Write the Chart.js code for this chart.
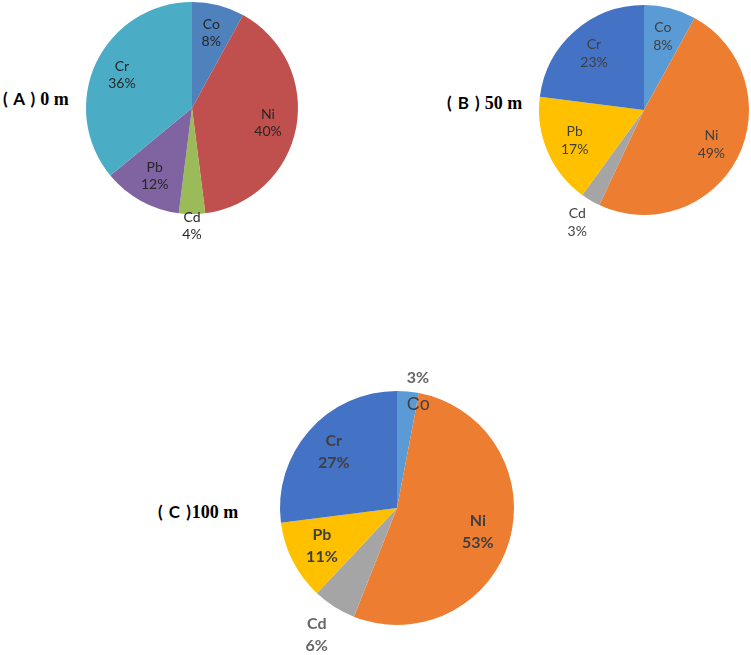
<!DOCTYPE html>
<html>
<head>
<meta charset="utf-8">
<script src="https://cdn.jsdelivr.net/npm/chart.js@4"></script>
<style>
  html, body { margin: 0; padding: 0; background: #fff; overflow: hidden; }
  body { width: 751px; height: 655px; position: relative; }
  canvas { position: absolute; }
  .ttl { position: absolute; white-space: nowrap; color: #000; font-weight: bold; line-height: 1; }
  .ttl .s { font-family: "Lato", "Liberation Sans", sans-serif; font-size: 17px; letter-spacing: 1px; }
  .ttl .m { font-family: "Liberation Serif", serif; font-size: 18px; }
</style>
</head>
<body>
<div class="ttl" style="left:3px;top:90px"><span class="s">( A )</span> <span class="m">0 m</span></div>
<div class="ttl" style="left:447px;top:94px"><span class="s">( B )</span>&nbsp;<span class="m">50 m</span></div>
<div class="ttl" style="left:158px;top:503px"><span class="s">( C )</span><span class="m">100 m</span></div>

<canvas id="chartA"></canvas>
<canvas id="chartB"></canvas>
<canvas id="chartC"></canvas>

<script>
// metals, clockwise from 12 o'clock
const metals = ["Co", "Ni", "Cd", "Pb", "Cr"];

// share of each metal (%)
const valuesA = [8, 40, 4, 12, 36];   // 0 m
const valuesB = [8, 49, 3, 17, 23];   // 50 m
const valuesC = [3, 53, 6, 11, 27];   // 100 m

const colorsA = ["#4F81BD", "#C0504D", "#9BBB59", "#8064A2", "#4BACC6"];
const colorsB = ["#5B9BD5", "#ED7D31", "#A5A5A5", "#FFC000", "#4472C4"];
const colorsC = ["#5B9BD5", "#ED7D31", "#A5A5A5", "#FFC000", "#4472C4"];

// writes "name / pct" on each slice
const sliceLabels = {
  id: "sliceLabels",
  afterDatasetsDraw(chart, args, opts) {
    const ctx = chart.ctx;
    const meta = chart.getDatasetMeta(0);
    const data = chart.data.datasets[0].data;
    const total = data.reduce((a, b) => a + b, 0);
    ctx.save();
    ctx.textAlign = "center";
    ctx.textBaseline = "middle";
    ctx.font = opts.font;
    const lh = opts.lineHeight;
    meta.data.forEach((arc, i) => {
      const p = arc.getProps(["x", "y", "startAngle", "endAngle", "outerRadius"], true);
      const mid = (p.startAngle + p.endAngle) / 2;
      const name = chart.data.labels[i];
      const pct = Math.round(data[i] / total * 100) + "%";
      const at = (f) => [p.x + Math.cos(mid) * p.outerRadius * f, p.y + Math.sin(mid) * p.outerRadius * f];
      if ((opts.split || []).includes(i)) {
        // name just inside the rim, percent outside, both left aligned
        const [x1, y1] = at(opts.splitIn);
        const [x2, y2] = at(opts.splitOut);
        ctx.textAlign = "left";
        ctx.fillStyle = opts.color;
        ctx.font = opts.splitFont || opts.font;
        ctx.fillText(name, x1, y1);
        ctx.font = opts.font;
        ctx.fillStyle = opts.outColor;
        ctx.fillText(pct, x1, y2);
        ctx.textAlign = "center";
        return;
      }
      const outside = (opts.outside || []).includes(i);
      const [x, y] = at(outside ? opts.outer : opts.inner);
      ctx.fillStyle = outside ? opts.outColor : opts.color;
      ctx.fillText(name, x, y - lh / 2);
      ctx.fillText(pct, x, y + lh / 2);
    });
    ctx.restore();
  }
};

function makePie(id, values, colors, box, labelOpts) {
  const cv = document.getElementById(id);
  const m = box.margin;
  const size = box.r * 2 + m * 2;
  cv.style.left = (box.cx - box.r - m) + "px";
  cv.style.top = (box.cy - box.r - m) + "px";
  cv.style.width = size + "px";
  cv.style.height = size + "px";
  cv.width = size;
  cv.height = size;
  return new Chart(cv.getContext("2d"), {
    type: "pie",
    data: {
      labels: metals,
      datasets: [{
        data: values,
        backgroundColor: colors,
        borderWidth: 0
      }]
    },
    options: {
      responsive: false,
      animation: false,
      layout: { padding: m },
      plugins: {
        legend: { display: false },
        tooltip: { enabled: false },
        sliceLabels: labelOpts
      }
    },
    plugins: [sliceLabels]
  });
}

makePie("chartA", valuesA, colorsA, { cx: 192, cy: 108, r: 106, margin: 40 }, {
  font: "14px Lato, 'Open Sans', sans-serif", lineHeight: 17,
  color: "#262626", outColor: "#262626",
  inner: 0.73, outer: 1.11, outside: [2]
});

makePie("chartB", valuesB, colorsB, { cx: 644, cy: 110, r: 105, margin: 40 }, {
  font: "14px Lato, 'Open Sans', sans-serif", lineHeight: 18,
  color: "#404040", outColor: "#404040",
  inner: 0.72, outer: 1.25, outside: [2]
});

makePie("chartC", valuesC, colorsC, { cx: 397, cy: 508, r: 117, margin: 45 }, {
  font: "bold 16px Lato, 'Open Sans', sans-serif", lineHeight: 22,
  splitFont: "18px 'Liberation Sans', sans-serif",
  color: "#404040", outColor: "#666666",
  inner: 0.72, outer: 1.28, outside: [2],
  split: [0], splitIn: 0.88, splitOut: 1.12
});
</script>
</body>
</html>
